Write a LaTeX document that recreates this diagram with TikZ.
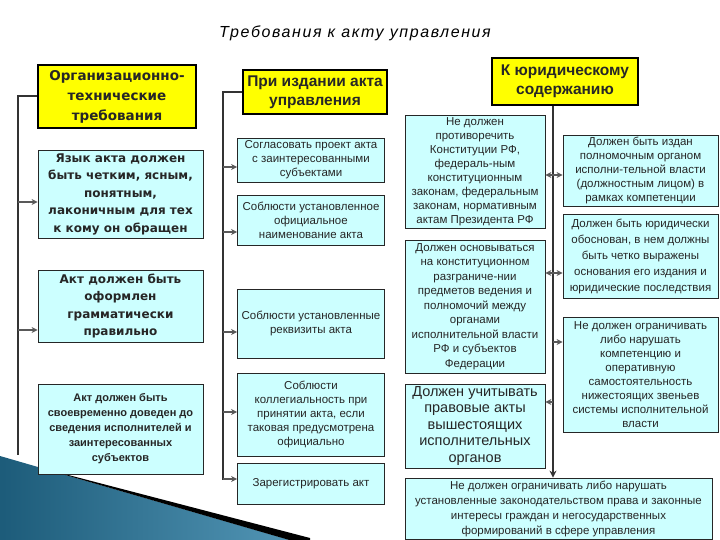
\documentclass[tikz,border=0pt]{standalone}
\usepackage{fontspec}
\setmainfont{Liberation Sans}
\newfontfamily\verdfont{DejaVu Sans}
\usetikzlibrary{arrows.meta,backgrounds}
\definecolor{headyellow}{RGB}{255,255,0}
\definecolor{boxcyan}{RGB}{204,255,255}
\definecolor{wedgeblue}{RGB}{38,122,162}

\begin{document}
\begin{tikzpicture}[x=1pt,y=-1pt,
  head/.style={draw=black, line width=2.5pt, fill=headyellow, align=center, inner sep=1pt,
    text=black!85, font=\bfseries\fontsize{15.5}{19}\selectfont},
  req/.style={draw=black!85, line width=0.8pt, fill=boxcyan, align=center, inner sep=1pt,
    text=black!85, font=\fontsize{11.5}{14}\selectfont},
  verdreq/.style={req, font=\verdfont\bfseries\fontsize{12}{17.5}\selectfont},
  spine/.style={draw=black!80, line width=2pt},
  arr/.style={draw=black!65, line width=1.3pt, -{Stealth[length=6pt,width=6pt]}},
]
\useasboundingbox (0,0) rectangle (720,540);

% title
\node[font=\itshape\fontsize{16}{18}\selectfont\addfontfeatures{LetterSpace=10}] (title) at (355,33)
  {Требования к акту управления};

% left column
\node[head, font=\verdfont\bfseries\fontsize{13.5}{20}\selectfont, minimum width=158pt, minimum height=63pt]
  (orgHead) at (117,96.5) {Организационно-\\технические\\требования};
\node[verdreq, minimum width=165pt, minimum height=88pt] (lang) at (120.5,194)
  {Язык акта должен\\быть четким, ясным,\\понятным,\\лаконичным для тех\\к кому он обращен};
\node[verdreq, minimum width=165pt, minimum height=72pt] (gram) at (120.5,306)
  {Акт должен быть\\оформлен\\грамматически\\правильно};
\node[req, font=\bfseries\fontsize{11}{15}\selectfont, minimum width=165pt, minimum height=90pt]
  (timely) at (120.5,429)
  {Акт должен быть\\своевременно доведен до\\сведения исполнителей и\\заинтересованных\\субъектов};

% middle column
\node[head, minimum width=144pt, minimum height=44pt] (issueHead) at (315,92) {При издании акта\\управления};
\node[req, minimum width=147pt, minimum height=44pt] (agree) at (311,160)
  {Согласовать проект акта\\с заинтересованными\\субъектами};
\node[req, minimum width=147pt, minimum height=50pt] (name) at (311,220)
  {Соблюсти установленное\\официальное\\наименование акта};
\node[req, minimum width=147pt, minimum height=69pt] (requisites) at (311,323.5)
  {Соблюсти установленные\\реквизиты акта};
\node[req, minimum width=147pt, minimum height=83pt] (collegial) at (311,414.5)
  {Соблюсти\\коллегиальность при\\принятии акта, если\\таковая предусмотрена\\официально};
\node[req, minimum width=147pt, minimum height=41pt] (register) at (311,483.5) {Зарегистрировать акт};

% right column
\node[head, minimum width=146pt, minimum height=47pt]
  (lawHead) at (565,81.5) {К юридическому\\содержанию};
\node[req, minimum width=140pt, minimum height=113pt] (constit) at (475,171.5)
  {Не должен\\противоречить\\Конституции РФ,\\федераль-ным\\конституционным\\законам, федеральным\\законам, нормативным\\актам Президента РФ};
\node[req, font=\fontsize{11.5}{14.5}\selectfont, minimum width=140pt, minimum height=133pt] (delimit) at (475,306.5)
  {Должен основываться\\на конституционном\\разграниче-нии\\предметов ведения и\\полномочий между\\органами\\исполнительной власти\\РФ и субъектов\\Федерации};
\node[req, font=\fontsize{14.5}{16.5}\selectfont, minimum width=140pt, minimum height=84pt] (higher) at (475,426)
  {Должен учитывать\\правовые акты\\вышестоящих\\исполнительных\\органов};
\node[req, minimum width=155pt, minimum height=71pt] (issued) at (640.5,170.5)
  {Должен быть издан\\полномочным органом\\исполни-тельной власти\\(должностным лицом) в\\рамках компетенции};
\node[req, font=\fontsize{11.5}{16}\selectfont, minimum width=155pt, minimum height=84pt] (justified) at (640.5,256)
  {Должен быть юридически\\обоснован, в нем должны\\быть четко выражены\\основания его издания и\\юридические последствия};
\node[req, minimum width=155pt, minimum height=115pt] (noLimit) at (640.5,374.5)
  {Не должен ограничивать\\либо нарушать\\компетенцию и\\оперативную\\самостоятельность\\нижестоящих звеньев\\системы исполнительной\\власти};
\node[req, font=\fontsize{11.5}{15}\selectfont, minimum width=307pt, minimum height=61pt] (citizens) at (558.5,508.5)
  {Не должен ограничивать либо нарушать\\установленные законодательством права и законные\\интересы граждан и негосударственных\\формирований в сфере управления};

% spines
\coordinate (lTop) at (18,96.5);
\coordinate (mTop) at (223,92);
\coordinate (rTop) at (lawHead.south -| 553,0);
\draw[spine] (orgHead.west) -- (lTop) -- (lTop |- 0,455);
\draw[spine] (issueHead.west) -- (mTop) -- (mTop |- 0,480);
\draw[spine, -{Stealth[length=7pt,width=7pt]}] (rTop) -- (rTop |- citizens.north);

% arrows
\foreach \n/\y in {lang/202, gram/330}
  \draw[arr] (lTop |- 0,\y) -- (\n.west |- 0,\y);
\foreach \n/\y in {agree/167, name/232, requisites/332, collegial/412, register/479}
  \draw[arr] (mTop |- 0,\y) -- (\n.west |- 0,\y);
\foreach \n/\y in {constit/175, delimit/273, higher/402}
  \draw[arr] (rTop |- 0,\y) -- (\n.east |- 0,\y);
\foreach \n/\y in {issued/175, justified/273, noLimit/342}
  \draw[arr] (rTop |- 0,\y) -- (\n.west |- 0,\y);

% corner wedge, behind the boxes
\begin{scope}[on background layer]
\shade[left color=wedgeblue!75!black, right color=wedgeblue!80!white] (0,456) -- (290,540) -- (0,540) -- cycle;
\fill[black] (40,467.6) -- (310,538) -- (310,546) -- cycle;
\end{scope}
\end{tikzpicture}
\end{document}
